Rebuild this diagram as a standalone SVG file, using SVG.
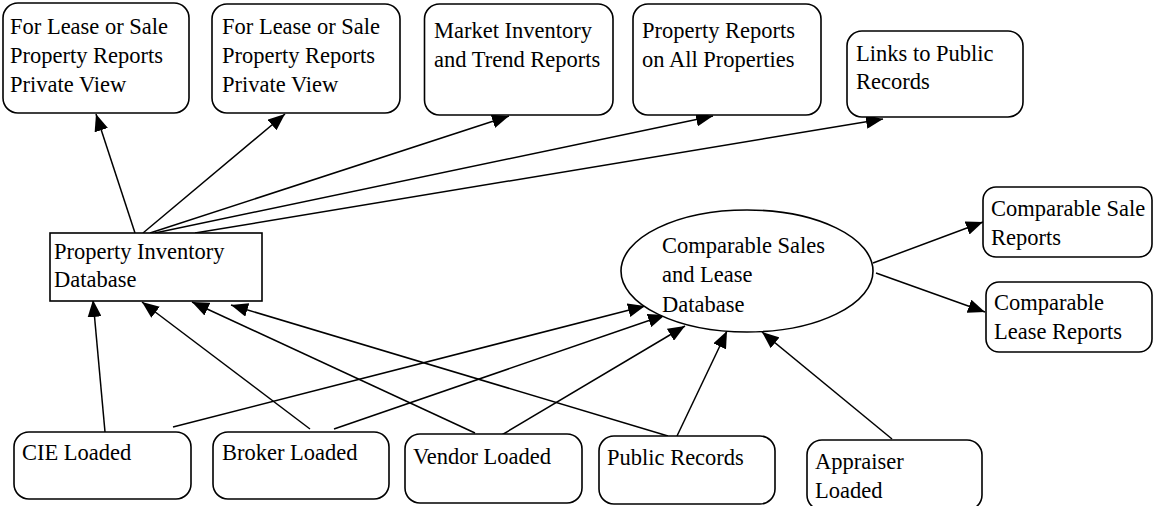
<svg xmlns="http://www.w3.org/2000/svg" width="1154" height="506" viewBox="0 0 1154 506">
<style>
.box{fill:#fff;stroke:#000;stroke-width:1.6}
.t{font-family:"Liberation Serif","Times New Roman",serif;font-size:22.5px;fill:#000}
.c line{stroke:#000;stroke-width:1.5;marker-end:url(#ah)}
</style>
<defs>
<marker id="ah" markerUnits="userSpaceOnUse" markerWidth="17" markerHeight="14" viewBox="0 0 17 14" refX="17" refY="7" orient="auto">
<path d="M0,0 L17,7 L0,14 z" fill="#000"/>
</marker>
</defs>
<rect width="1154" height="506" fill="#fff"/>
<g class="c" id="connectors">
<line x1="135" y1="233" x2="96" y2="114"/>
<line x1="143" y1="233" x2="285" y2="114"/>
<line x1="150" y1="233" x2="509" y2="116"/>
<line x1="155" y1="233" x2="713" y2="116"/>
<line x1="195" y1="233" x2="883" y2="119"/>
<line x1="105" y1="432" x2="93" y2="300"/>
<line x1="310" y1="429" x2="142" y2="302"/>
<line x1="475" y1="433" x2="192" y2="302"/>
<line x1="668" y1="436" x2="231" y2="305"/>
<line x1="173" y1="427" x2="645" y2="306"/>
<line x1="334" y1="429" x2="665" y2="315"/>
<line x1="500" y1="436" x2="685" y2="326"/>
<line x1="677" y1="436" x2="727" y2="331"/>
<line x1="892" y1="439" x2="762" y2="332"/>
<line x1="873" y1="263" x2="983" y2="222"/>
<line x1="876" y1="273" x2="985" y2="312"/>
</g>
<g id="n_lease_sale_1"><rect class="box" x="3" y="3" width="186" height="110" rx="15"/>
<text class="t" x="10" y="34">For Lease or Sale</text><text class="t" x="10" y="63">Property Reports</text><text class="t" x="10" y="92">Private View</text></g>
<g id="n_lease_sale_2"><rect class="box" x="212" y="4" width="188" height="109" rx="15"/>
<text class="t" x="222" y="34">For Lease or Sale</text><text class="t" x="222" y="63">Property Reports</text><text class="t" x="222" y="92">Private View</text></g>
<g id="n_market"><rect class="box" x="424.5" y="4" width="188.5" height="111" rx="15"/>
<text class="t" x="434" y="38">Market Inventory</text><text class="t" x="434" y="67">and Trend Reports</text></g>
<g id="n_prop_reports"><rect class="box" x="633" y="4" width="188" height="111" rx="15"/>
<text class="t" x="642" y="38">Property Reports</text><text class="t" x="642" y="67">on All Properties</text></g>
<g id="n_links"><rect class="box" x="847" y="31" width="176" height="86" rx="15"/>
<text class="t" x="856" y="61">Links to Public</text><text class="t" x="856" y="89">Records</text></g>
<g id="n_pidb"><rect class="box" x="50" y="233" width="212" height="68"/>
<text class="t" x="54" y="259">Property Inventory</text><text class="t" x="54" y="287">Database</text></g>
<g id="n_comp_db"><ellipse class="box" cx="747" cy="271" rx="126" ry="61"/>
<text class="t" x="662" y="253">Comparable Sales</text><text class="t" x="662" y="282">and Lease</text><text class="t" x="662" y="312">Database</text></g>
<g id="n_comp_sale"><rect class="box" x="983" y="187" width="169" height="70" rx="13"/>
<text class="t" x="991" y="216">Comparable Sale</text><text class="t" x="991" y="245">Reports</text></g>
<g id="n_comp_lease"><rect class="box" x="986" y="282" width="166" height="70" rx="13"/>
<text class="t" x="994" y="310">Comparable</text><text class="t" x="994" y="339">Lease Reports</text></g>
<g id="n_cie"><rect class="box" x="14" y="432" width="177" height="67" rx="15"/>
<text class="t" x="22" y="460">CIE Loaded</text></g>
<g id="n_broker"><rect class="box" x="213" y="432" width="176" height="67" rx="15"/>
<text class="t" x="222" y="460">Broker Loaded</text></g>
<g id="n_vendor"><rect class="box" x="405" y="434" width="177" height="69" rx="15"/>
<text class="t" x="413" y="464">Vendor Loaded</text></g>
<g id="n_public"><rect class="box" x="599" y="436" width="176" height="68" rx="15"/>
<text class="t" x="607" y="465">Public Records</text></g>
<g id="n_appraiser"><rect class="box" x="807" y="440" width="175" height="70" rx="15"/>
<text class="t" x="815" y="469">Appraiser</text><text class="t" x="815" y="498">Loaded</text></g>
</svg>
